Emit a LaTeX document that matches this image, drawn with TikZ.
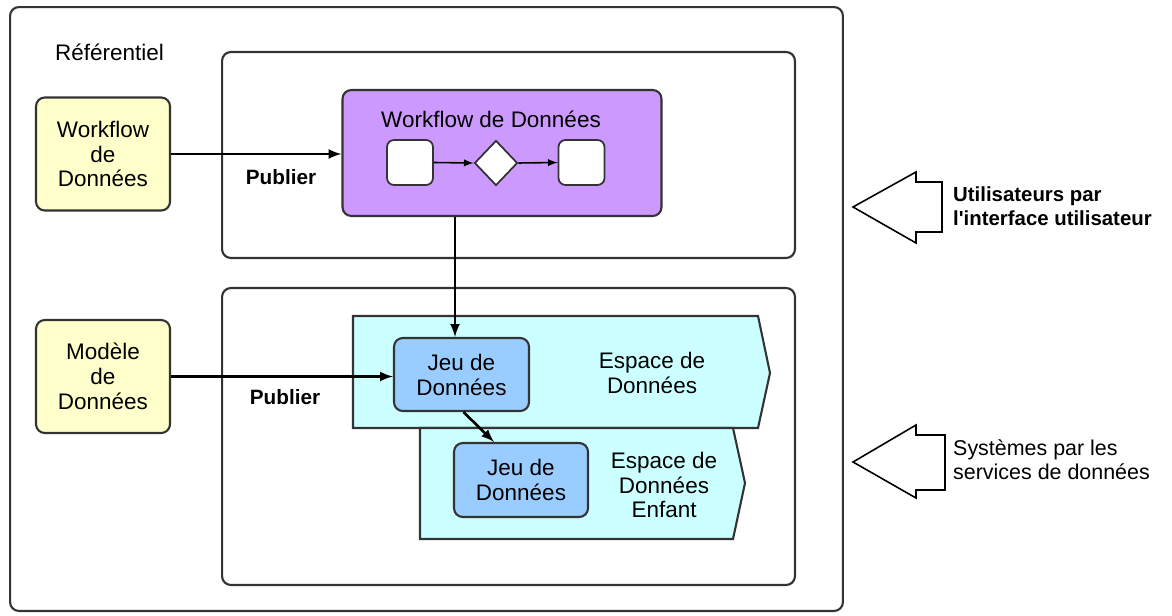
\documentclass[tikz,border=0pt]{standalone}
\usepackage{fontspec}
\setmainfont{Liberation Sans}
\newfontfamily\rawsans{Liberation Sans}
\usepackage{tikz}
\usetikzlibrary{positioning}
\usetikzlibrary{shapes.geometric}
\usetikzlibrary{calc}

\definecolor{modelyellow}{HTML}{FFFFCC}
\definecolor{wfpurple}{HTML}{CC99FF}
\definecolor{spacecyan}{HTML}{CCFFFF}
\definecolor{setblue}{HTML}{99CCFF}
\definecolor{edge}{HTML}{333333}

\begin{document}
\begin{tikzpicture}[
  x=0.02cm, y=-0.02cm,
  font=\fontsize{12.8pt}{14.2pt}\selectfont,
  frame/.style={draw=edge,line width=1.2pt,rounded corners=5pt,inner sep=0pt},
  box/.style={draw=edge,line width=1.2pt,rounded corners=5pt,inner sep=0pt,align=center},
  mini/.style={draw=edge,line width=1pt,fill=white,rounded corners=4pt,inner sep=0pt,
    minimum width=0.92cm,minimum height=0.9cm},
  space/.style={draw=edge,line width=1.2pt,fill=spacecyan},
  hollow/.style={draw=black,line width=0.9pt,fill=white},
  flow/.style={draw=black,line width=1.5pt,-latex},
  small/.style={draw=black,line width=0.9pt,-latex}
]
  \useasboundingbox (0,0) rectangle (1172,615);

  % frames
  \node[frame,minimum width=16.66cm,minimum height=12.08cm] (repo) at (426.5,309) {};
  \node[anchor=west] (repotitle) at (49,52) {Référentiel};
  \node[frame,minimum width=11.46cm,minimum height=4.12cm] (upper) at (508.5,155) {};
  \node[frame,minimum width=11.46cm,minimum height=5.94cm] (lower) at (508.5,436.5) {};

  % models
  \node[box,fill=modelyellow,minimum width=2.68cm,minimum height=2.26cm] (wfmodel) at (103,154) {Workflow\\de\\Données};
  \node[box,fill=modelyellow,minimum width=2.68cm,minimum height=2.26cm] (datamodel) at (103,376.5) {Modèle\\de\\Données};

  % workflow
  \node[box,fill=wfpurple,minimum width=6.38cm,minimum height=2.52cm] (workflow) at (502,153) {};
  \node (wftitle) at (491,119) {Workflow de Données};
  \node[mini] (wfa) at (410,162.5) {};
  \node[diamond,draw=edge,line width=1pt,fill=white,inner sep=0pt,
    minimum width=0.86cm,minimum height=0.9cm] (wfdec) at (496,163) {};
  \node[mini] (wfb) at (581.5,162.5) {};
  \draw[small] (wfa.east) -- (wfdec.west);
  \draw[small] (wfdec.east) -- (wfb.west);

  % data spaces
  \draw[space] (353,316) -- (758,316) -- (770,373) -- (758,428) -- (353,428) -- cycle;
  \draw[space] (420,428) -- (733,428) -- (745,483) -- (733,539) -- (420,539) -- cycle;
  \node[align=center] (space) at (652,373) {Espace de\\Données};
  \node[align=center] (child) at (664,485) {Espace de\\Données\\Enfant};
  \node[box,fill=setblue,minimum width=2.7cm,minimum height=1.46cm] (set) at (461.5,374.5) {Jeu de\\Données};
  \node[box,fill=setblue,minimum width=2.68cm,minimum height=1.48cm] (childset) at (521,480) {Jeu de\\Données};

  % publishing
  \draw[flow] (wfmodel.east) -- (wfmodel.east -| workflow.west);
  \node[font=\fontsize{11.8pt}{14pt}\selectfont\bfseries] (pub1) at (281,177) {Publier};
  \draw[flow] (datamodel.east) -- (datamodel.east -| set.west);
  \node[font=\fontsize{11.8pt}{14pt}\selectfont\bfseries] (pub2) at (285,397) {Publier};
  \coordinate (setin) at ([xshift=-0.13cm]set.north);
  \draw[flow] (setin |- workflow.south) -- (setin);
  \draw[flow] ([xshift=0.04cm]set.south) -- ([xshift=-0.54cm]childset.north);

  % access
  \draw[hollow] (853,207) -- (916,172) -- (916,182) -- (942,182) -- (942,232)
    -- (916,232) -- (916,243) -- cycle;
  \node[anchor=west,align=left,font=\fontsize{11.6pt}{13.6pt}\selectfont\bfseries] (users) at (947,206)
    {Utilisateurs par\\l{\rawsans\bfseries'}interface utilisateur};
  \draw[hollow] (853,462) -- (916,425) -- (916,435) -- (945,435) -- (945,490)
    -- (916,490) -- (916,498) -- cycle;
  \node[anchor=west,align=left,font=\fontsize{12.2pt}{13.8pt}\selectfont] (systems) at (947,460)
    {Systèmes par les\\services de données};
\end{tikzpicture}
\end{document}
